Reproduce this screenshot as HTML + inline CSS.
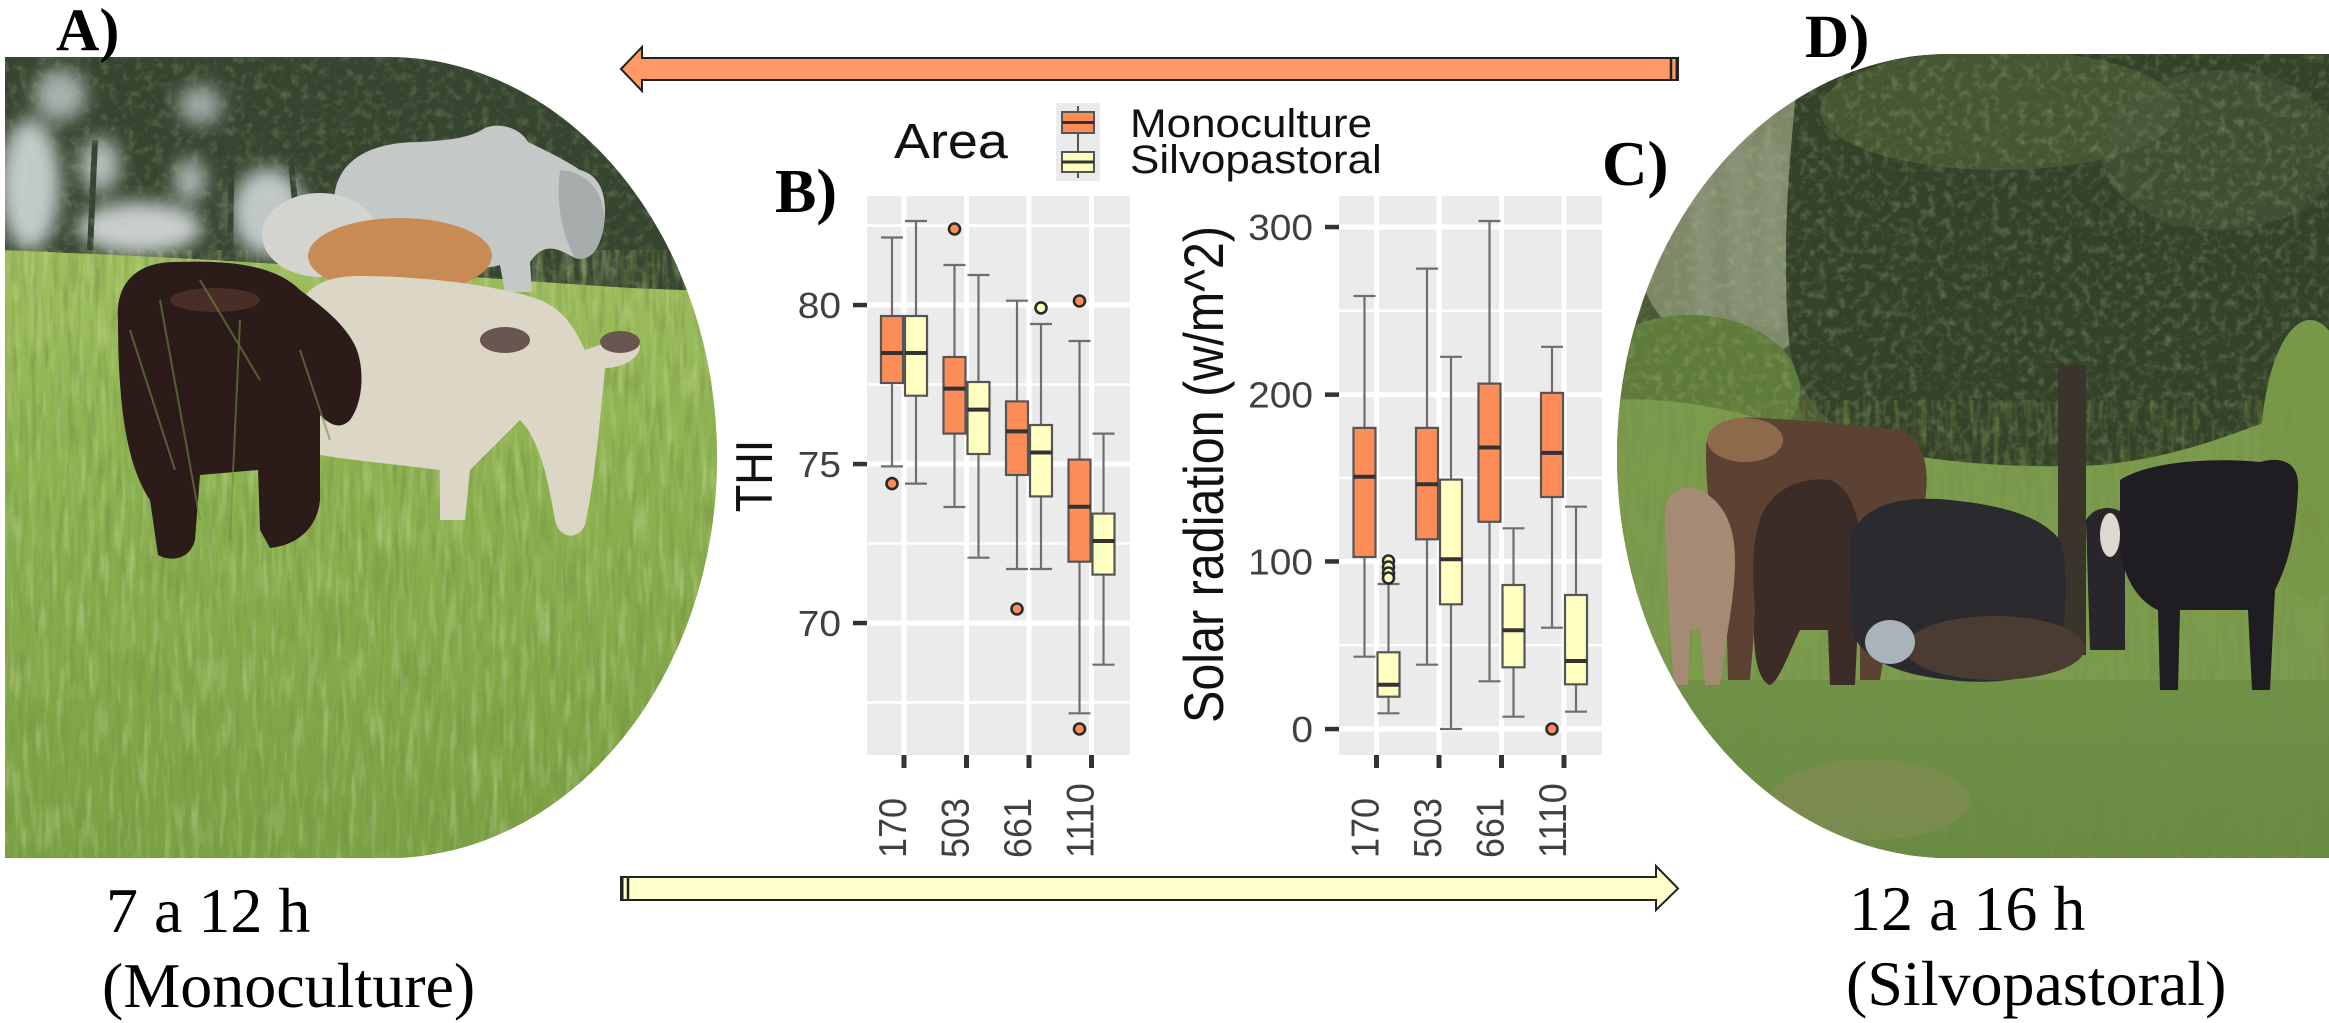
<!DOCTYPE html>
<html><head><meta charset="utf-8">
<style>
html,body{margin:0;padding:0;background:#fff;}
svg{display:block;}
text{font-family:"Liberation Sans",Arial,sans-serif;}
.serif{font-family:"Liberation Serif","Times New Roman",serif;}
.w{stroke:#6e6e6e;stroke-width:2.2;fill:none}
.bo{fill:#FC8D59;stroke:#555;stroke-width:2.2}
.by{fill:#FFFFBF;stroke:#555;stroke-width:2.2}
.m{stroke:#333;stroke-width:4;fill:none}
.oo{fill:#FC8D59;stroke:#2a2a2a;stroke-width:2.6}
.oy{fill:#FFFFBF;stroke:#2a2a2a;stroke-width:2.6}
.gM{stroke:#fff;stroke-width:5;fill:none}
.gm{stroke:#fff;stroke-width:2.5;fill:none}
.tk{fill:#404040;font-size:36px}
.tm{fill:#333}
</style></head><body>
<svg width="2329" height="1023" viewBox="0 0 2329 1023" xmlns="http://www.w3.org/2000/svg">
<defs>
<clipPath id="clipL"><path d="M5,57 L388,57 A329,400.5 0 0 1 388,858 L5,858 Z"/></clipPath>
<clipPath id="clipR"><path d="M1950,54 L2329,54 L2329,858 L1950,858 A333,402 0 0 1 1950,54 Z"/></clipPath>
<linearGradient id="gL" x1="0" y1="0" x2="0" y2="1">
<stop offset="0" stop-color="#9fbf5e"/><stop offset="0.35" stop-color="#8cb250"/><stop offset="1" stop-color="#7aa043"/>
</linearGradient>
<linearGradient id="gR" x1="0" y1="0" x2="0" y2="1">
<stop offset="0" stop-color="#6f9146"/><stop offset="1" stop-color="#6a8a44"/>
</linearGradient>
<filter id="grainD" x="0" y="0" width="1" height="1">
<feTurbulence type="fractalNoise" baseFrequency="0.16 0.02" numOctaves="2" seed="7"/>
<feColorMatrix type="matrix" values="0 0 0 0 0.18  0 0 0 0 0.27  0 0 0 0 0.06  2.4 0 0 0 -1.1"/>
</filter>
<filter id="grainL" x="0" y="0" width="1" height="1">
<feTurbulence type="fractalNoise" baseFrequency="0.14 0.02" numOctaves="2" seed="19"/>
<feColorMatrix type="matrix" values="0 0 0 0 0.78  0 0 0 0 0.86  0 0 0 0 0.52  2.4 0 0 0 -1.15"/>
</filter>
<filter id="leaf" x="0" y="0" width="1" height="1">
<feTurbulence type="fractalNoise" baseFrequency="0.11" numOctaves="3" seed="4"/>
<feColorMatrix type="matrix" values="0 0 0 0 0.45  0 0 0 0 0.55  0 0 0 0 0.28  2.2 0 0 0 -1.05"/>
</filter>
<filter id="soft" x="-20%" y="-20%" width="140%" height="140%">
<feGaussianBlur stdDeviation="9"/>
</filter>
</defs>

<!-- ===== LEFT PHOTO ===== -->
<g clip-path="url(#clipL)">
<rect x="0" y="50" width="730" height="820" fill="#86ab4c"/>
<path d="M0,50 H730 V292 L630,288 C500,280 300,262 0,250 Z" fill="#36452f"/>
<g filter="url(#soft)">
<ellipse cx="30" cy="185" rx="30" ry="66" fill="#c3cacb"/>
<ellipse cx="140" cy="228" rx="62" ry="26" fill="#c9cfd0"/>
<ellipse cx="268" cy="212" rx="36" ry="44" fill="#c0c8ca"/>
<ellipse cx="60" cy="95" rx="26" ry="26" fill="#a7b0af"/>
<ellipse cx="200" cy="105" rx="22" ry="20" fill="#9ea7a5"/>
<ellipse cx="100" cy="165" rx="20" ry="27" fill="#b3bbbb"/>
<ellipse cx="190" cy="180" rx="16" ry="22" fill="#aab2b1"/>
</g>
<path d="M230,250 L232,120 M90,250 L95,140 M300,255 L290,150" stroke="#3a4434" stroke-width="6"/>
<rect x="0" y="50" width="730" height="250" filter="url(#leaf)" opacity="0.3"/>
<path d="M0,250 C300,262 500,280 630,288 L730,292 V870 H0 Z" fill="url(#gL)"/>
<rect x="0" y="250" width="730" height="620" filter="url(#grainD)" opacity="0.6"/>
<rect x="0" y="250" width="730" height="620" filter="url(#grainL)" opacity="0.35"/>
<path d="M334,200 C336,160 370,142 420,142 C450,140 470,138 485,128 C500,122 520,128 528,142 C545,150 565,160 580,170 C600,175 608,195 604,225 C600,250 590,262 575,258 C560,250 545,240 530,262 L532,292 L505,292 L500,265 C470,272 420,275 380,272 C355,270 336,245 334,200 Z" fill="#c4c8c7"/>
<path d="M560,170 C590,172 606,195 604,225 C600,250 590,262 575,258 C565,240 555,210 560,170 Z" fill="#a7acac"/>
<ellipse cx="320" cy="235" rx="58" ry="42" fill="#d2d4d0"/>
<ellipse cx="400" cy="256" rx="92" ry="38" fill="#c98b54"/>
<path d="M296,330 C296,290 320,276 360,276 C420,276 500,285 540,300 C565,310 575,330 585,350 C600,345 620,335 640,345 C640,360 620,368 605,368 C600,420 595,480 585,525 C578,540 560,540 555,520 C548,480 540,440 520,420 C500,440 480,460 470,470 L465,520 L440,520 L440,470 C400,465 350,460 320,455 C305,430 296,380 296,330 Z" fill="#dcd6c6"/>
<ellipse cx="505" cy="340" rx="25" ry="13" fill="#6a5650"/>
<ellipse cx="620" cy="342" rx="20" ry="11" fill="#6a5650"/>
<path d="M118,320 C115,285 135,262 175,262 C230,260 275,265 300,290 C320,305 340,320 352,340 C365,360 365,400 350,420 C340,430 330,425 320,415 L320,500 C318,525 300,545 270,548 L260,530 L258,470 L200,475 L195,540 C190,560 170,562 158,555 L150,500 C130,470 118,420 118,320 Z" fill="#2b1c1a"/>
<ellipse cx="215" cy="300" rx="45" ry="12" fill="#5a3a2e" opacity="0.6"/>
<path d="M130,330 L175,470 M160,300 L200,520 M240,320 L230,540 M300,350 L330,440 M200,280 L260,380" stroke="#6f8f45" stroke-width="2" opacity="0.6"/>
</g>

<!-- ===== RIGHT PHOTO ===== -->
<g clip-path="url(#clipR)">
<rect x="1600" y="50" width="740" height="820" fill="#4b5a35"/>
<ellipse cx="1740" cy="220" rx="110" ry="140" fill="#7c8868"/>
<g filter="url(#soft)" opacity="0.8">
<path d="M1700,120 L1705,330 M1735,110 L1742,320 M1770,140 L1772,330" stroke="#a9ab9b" stroke-width="8"/>
</g>
<ellipse cx="1690" cy="390" rx="110" ry="75" fill="#5f7b3b"/>
<path d="M1800,54 H2329 V470 C2280,480 2240,470 2200,460 C2150,480 2100,470 2060,470 C2000,480 1930,470 1880,450 C1830,430 1800,400 1790,350 C1780,250 1790,150 1800,54 Z" fill="#34422a"/>
<ellipse cx="2000" cy="110" rx="180" ry="60" fill="#4f5f37" opacity="0.7"/>
<ellipse cx="2220" cy="150" rx="120" ry="80" fill="#48583a" opacity="0.6"/>
<rect x="1600" y="50" width="740" height="430" filter="url(#leaf)" opacity="0.35"/>
<path d="M1600,400 C1700,395 1760,420 1800,430 C1900,460 2000,470 2100,465 C2200,455 2260,420 2329,400 V870 H1600 Z" fill="#7b9b4d"/>
<ellipse cx="2310" cy="460" rx="50" ry="140" fill="#789848"/>
<rect x="1600" y="680" width="740" height="190" fill="url(#gR)"/>
<ellipse cx="1870" cy="800" rx="100" ry="40" fill="#8c8c5c" opacity="0.5"/>
<rect x="1600" y="400" width="740" height="470" filter="url(#grainD)" opacity="0.6"/>
<rect x="2058" y="365" width="28" height="290" fill="#3a342b"/>
<path d="M1706,450 C1705,425 1730,415 1760,418 C1800,420 1850,425 1900,430 C1925,440 1930,470 1925,500 L1900,560 L1880,680 L1860,680 L1860,570 L1790,570 L1760,560 L1750,680 L1728,680 L1725,560 C1710,530 1706,490 1706,450 Z" fill="#5b4232"/>
<ellipse cx="1745" cy="440" rx="38" ry="22" fill="#8c6a4a"/>
<path d="M1665,520 C1662,495 1680,483 1700,490 C1720,500 1735,520 1735,560 C1735,600 1725,640 1720,685 L1705,685 L1700,630 L1690,630 L1688,685 L1674,685 C1668,620 1667,560 1665,520 Z" fill="#a68b74"/>
<path d="M1760,520 C1770,490 1800,476 1830,480 C1855,490 1865,530 1860,580 L1855,685 L1830,685 L1828,630 L1800,630 C1790,650 1780,680 1770,685 C1755,680 1752,640 1755,610 C1752,570 1752,545 1760,520 Z" fill="#3c2c27"/>
<path d="M1850,540 C1860,505 1900,495 1950,500 C2000,505 2040,515 2060,540 C2070,570 2065,620 2060,660 C2040,680 1990,685 1950,680 C1900,675 1860,660 1852,630 Z" fill="#2b2a2f"/>
<ellipse cx="1995" cy="648" rx="90" ry="32" fill="#4a3c32"/>
<ellipse cx="1890" cy="642" rx="25" ry="22" fill="#a9b3bb"/>
<path d="M2086,520 C2095,505 2115,505 2125,515 L2125,650 L2090,650 Z" fill="#28262a"/>
<ellipse cx="2110" cy="535" rx="10" ry="22" fill="#ddd8d0"/>
<path d="M2120,480 C2150,460 2220,458 2260,462 C2285,455 2300,465 2298,490 C2296,530 2290,560 2275,590 L2270,690 L2252,690 L2248,610 L2180,610 L2178,690 L2160,690 L2158,610 C2135,600 2120,570 2120,540 Z" fill="#1f1d21"/>
</g>

<!-- ===== ARROWS ===== -->
<polygon points="621,69 642,47 642,58 1678,58 1678,80 642,80 642,91" fill="#FF9966" stroke="#222" stroke-width="2" stroke-linejoin="miter"/>
<line x1="1671" y1="58" x2="1671" y2="80" stroke="#222" stroke-width="2.5"/>
<line x1="1677" y1="57" x2="1677" y2="81" stroke="#222" stroke-width="3"/>
<polygon points="621,877 1656,877 1656,866 1678,888.5 1656,910 1656,900 621,900" fill="#FFFFCC" stroke="#222" stroke-width="2"/>
<line x1="622" y1="876" x2="622" y2="901" stroke="#222" stroke-width="3"/>
<line x1="628" y1="877" x2="628" y2="900" stroke="#222" stroke-width="2.5"/>

<!-- ===== PANEL LABELS ===== -->
<text class="serif" x="56" y="50" font-size="60" font-weight="bold" fill="#000">A)</text>
<text class="serif" x="775" y="212" font-size="62" font-weight="bold" fill="#000">B)</text>
<text class="serif" x="1602" y="185" font-size="63" font-weight="bold" fill="#000">C)</text>
<text class="serif" x="1805" y="57" font-size="61" font-weight="bold" fill="#000">D)</text>

<text class="serif" x="106" y="932" font-size="64" fill="#000">7 a 12 h</text>
<text class="serif" x="102" y="1007" font-size="64" fill="#000">(Monoculture)</text>
<text class="serif" x="1849" y="930" font-size="64" fill="#000">12 a 16 h</text>
<text class="serif" x="1846" y="1005" font-size="64" fill="#000">(Silvopastoral)</text>

<!-- ===== LEGEND ===== -->
<text transform="translate(894,158) scale(1.1,1)" font-size="49" fill="#111">Area</text>
<rect x="1056" y="103" width="44" height="78" fill="#ebebeb"/>
<line x1="1078" y1="106" x2="1078" y2="178" stroke="#555" stroke-width="2"/>
<rect x="1062" y="112" width="32" height="21" fill="#FC8D59" stroke="#555" stroke-width="2"/>
<line x1="1062" y1="122.5" x2="1094" y2="122.5" stroke="#333" stroke-width="3"/>
<rect x="1062" y="152" width="32" height="20" fill="#FFFFBF" stroke="#555" stroke-width="2"/>
<line x1="1062" y1="162" x2="1094" y2="162" stroke="#333" stroke-width="3"/>
<text transform="translate(1130,137) scale(1.1,1)" font-size="40" fill="#111">Monoculture</text>
<text transform="translate(1130,173) scale(1.1,1)" font-size="40" fill="#111">Silvopastoral</text>

<!-- ===== THI PANEL ===== -->
<rect x="867" y="196" width="263" height="559" fill="#ebebeb"/>
<path class="gm" d="M867,225.5H1130M867,384.5H1130M867,543.5H1130M867,702.5H1130"/>
<path class="gM" d="M867,305H1130M867,464H1130M867,623H1130"/>
<path class="gM" d="M904,196V755M966.5,196V755M1029,196V755M1091.5,196V755"/>

<path class="w" d="M892,237.5V316M892,383V466.4M881,237.5H903M881,466.4H903"/>
<rect class="bo" x="881" y="316" width="22" height="67"/><path class="m" d="M881,353H903"/>
<circle class="oo" cx="892" cy="483.6" r="5.5"/>
<path class="w" d="M916,221V316M916,395.7V483.6M905,221H927M905,483.6H927"/>
<rect class="by" x="905" y="316" width="22" height="79.7"/><path class="m" d="M905,353H927"/>

<path class="w" d="M954.5,265V357M954.5,433.6V507M943.5,265H965.5M943.5,507H965.5"/>
<rect class="bo" x="943.5" y="357" width="22" height="76.6"/><path class="m" d="M943.5,388.6H965.5"/>
<circle class="oo" cx="954.5" cy="229" r="5.5"/>
<path class="w" d="M978.5,275V382M978.5,454V557.7M967.5,275H989.5M967.5,557.7H989.5"/>
<rect class="by" x="967.5" y="382" width="22" height="72"/><path class="m" d="M967.5,409.6H989.5"/>

<path class="w" d="M1017,300.7V401.4M1017,475V569M1006,300.7H1028M1006,569H1028"/>
<rect class="bo" x="1006" y="401.4" width="22" height="73.6"/><path class="m" d="M1006,431.4H1028"/>
<circle class="oo" cx="1017" cy="609" r="5.5"/>
<path class="w" d="M1041,324V425M1041,496.4V569M1030,324H1052M1030,569H1052"/>
<rect class="by" x="1030" y="425" width="22" height="71.4"/><path class="m" d="M1030,452.5H1052"/>
<circle class="oy" cx="1041" cy="307.9" r="5.5"/>

<path class="w" d="M1079.5,341V459.6M1079.5,561.7V713.3M1068.5,341H1090.5M1068.5,713.3H1090.5"/>
<rect class="bo" x="1068.5" y="459.6" width="22" height="102.1"/><path class="m" d="M1068.5,506.8H1090.5"/>
<circle class="oo" cx="1079.5" cy="301" r="5.5"/>
<circle class="oo" cx="1079.5" cy="729" r="5.5"/>
<path class="w" d="M1103.5,433.6V513.6M1103.5,574.6V664.7M1092.5,433.6H1114.5M1092.5,664.7H1114.5"/>
<rect class="by" x="1092.5" y="513.6" width="22" height="61"/><path class="m" d="M1092.5,541H1114.5"/>

<rect class="tm" x="853" y="302.8" width="14" height="4.5"/>
<rect class="tm" x="853" y="461.8" width="14" height="4.5"/>
<rect class="tm" x="853" y="620.8" width="14" height="4.5"/>
<text class="tk" transform="translate(841,318) scale(1.08,1)" text-anchor="end">80</text>
<text class="tk" transform="translate(841,477) scale(1.08,1)" text-anchor="end">75</text>
<text class="tk" transform="translate(841,636) scale(1.08,1)" text-anchor="end">70</text>
<rect class="tm" x="901.5" y="755" width="5" height="13"/>
<rect class="tm" x="964" y="755" width="5" height="13"/>
<rect class="tm" x="1026.5" y="755" width="5" height="13"/>
<rect class="tm" x="1089" y="755" width="5" height="13"/>
<text class="tk" transform="translate(906,858) scale(1.08,1) rotate(-90)">170</text>
<text class="tk" transform="translate(968.5,858) scale(1.08,1) rotate(-90)">503</text>
<text class="tk" transform="translate(1031,858) scale(1.08,1) rotate(-90)">661</text>
<text class="tk" transform="translate(1093.5,858) scale(1.08,1) rotate(-90)">1110</text>
<text transform="translate(772,476) scale(1.15,1) rotate(-90)" text-anchor="middle" font-size="45" fill="#111">THI</text>

<!-- ===== SOLAR PANEL ===== -->
<rect x="1339" y="196" width="263" height="559" fill="#ebebeb"/>
<path class="gm" d="M1339,310.8H1602M1339,478H1602M1339,645.2H1602"/>
<path class="gM" d="M1339,227H1602M1339,394.6H1602M1339,561.4H1602M1339,729H1602"/>
<path class="gM" d="M1376.5,196V755M1439,196V755M1501.5,196V755M1564,196V755"/>

<path class="w" d="M1364.5,296V427.9M1364.5,557V656.7M1353.5,296H1375.5M1353.5,656.7H1375.5"/>
<rect class="bo" x="1353.5" y="427.9" width="22" height="129.1"/><path class="m" d="M1353.5,476.8H1375.5"/>
<path class="w" d="M1388.5,584V652.3M1388.5,696.7V713.3M1377.5,584H1399.5M1377.5,713.3H1399.5"/>
<rect class="by" x="1377.5" y="652.3" width="22" height="44.4"/><path class="m" d="M1377.5,684.7H1399.5"/>
<circle class="oy" cx="1388.5" cy="561" r="5.5"/>
<circle class="oy" cx="1388.5" cy="567" r="5.5"/>
<circle class="oy" cx="1388.5" cy="573" r="5.5"/>
<circle class="oy" cx="1388.5" cy="578" r="5.5"/>

<path class="w" d="M1427,268.6V427.9M1427,539.3V664.7M1416,268.6H1438M1416,664.7H1438"/>
<rect class="bo" x="1416" y="427.9" width="22" height="111.4"/><path class="m" d="M1416,484.3H1438"/>
<path class="w" d="M1451,356.8V479.6M1451,604.3V729M1440,356.8H1462M1440,729H1462"/>
<rect class="by" x="1440" y="479.6" width="22" height="124.7"/><path class="m" d="M1440,559.3H1462"/>

<path class="w" d="M1489.5,221V383.6M1489.5,521.8V681.3M1478.5,221H1500.5M1478.5,681.3H1500.5"/>
<rect class="bo" x="1478.5" y="383.6" width="22" height="138.2"/><path class="m" d="M1478.5,447.5H1500.5"/>
<path class="w" d="M1513.5,528.3V585M1513.5,667.3V716.7M1502.5,528.3H1524.5M1502.5,716.7H1524.5"/>
<rect class="by" x="1502.5" y="585" width="22" height="82.3"/><path class="m" d="M1502.5,630.3H1524.5"/>

<path class="w" d="M1552,346.8V392.9M1552,497V627.7M1541,346.8H1563M1541,627.7H1563"/>
<rect class="bo" x="1541" y="392.9" width="22" height="104.1"/><path class="m" d="M1541,452.9H1563"/>
<circle class="oo" cx="1552" cy="729" r="5.5"/>
<path class="w" d="M1576,506.7V595M1576,684.3V711.7M1565,506.7H1587M1565,711.7H1587"/>
<rect class="by" x="1565" y="595" width="22" height="89.3"/><path class="m" d="M1565,661H1587"/>

<rect class="tm" x="1325" y="224.8" width="14" height="4.5"/>
<rect class="tm" x="1325" y="392.4" width="14" height="4.5"/>
<rect class="tm" x="1325" y="559.2" width="14" height="4.5"/>
<rect class="tm" x="1325" y="726.8" width="14" height="4.5"/>
<text class="tk" transform="translate(1313,240) scale(1.08,1)" text-anchor="end">300</text>
<text class="tk" transform="translate(1313,407.6) scale(1.08,1)" text-anchor="end">200</text>
<text class="tk" transform="translate(1313,574.4) scale(1.08,1)" text-anchor="end">100</text>
<text class="tk" transform="translate(1313,742) scale(1.08,1)" text-anchor="end">0</text>
<rect class="tm" x="1374" y="755" width="5" height="13"/>
<rect class="tm" x="1436.5" y="755" width="5" height="13"/>
<rect class="tm" x="1499" y="755" width="5" height="13"/>
<rect class="tm" x="1561.5" y="755" width="5" height="13"/>
<text class="tk" transform="translate(1378.5,858) scale(1.08,1) rotate(-90)">170</text>
<text class="tk" transform="translate(1441,858) scale(1.08,1) rotate(-90)">503</text>
<text class="tk" transform="translate(1503.5,858) scale(1.08,1) rotate(-90)">661</text>
<text class="tk" transform="translate(1566,858) scale(1.08,1) rotate(-90)">1110</text>
<text transform="translate(1223,474.5) scale(1.15,1) rotate(-90)" text-anchor="middle" font-size="48.5" fill="#111">Solar radiation (w/m^2)</text>
</svg>
</body></html>
